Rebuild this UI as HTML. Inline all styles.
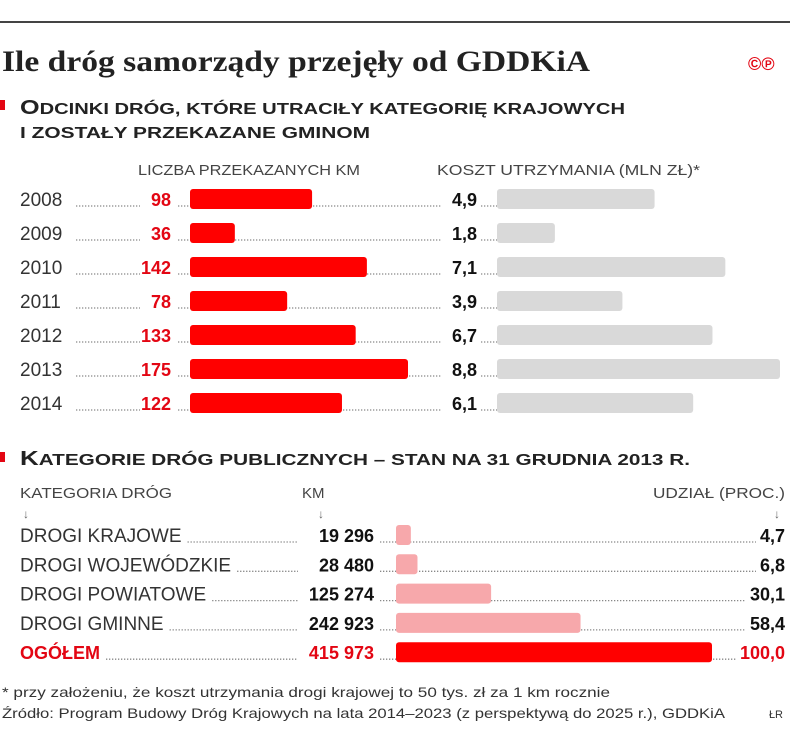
<!DOCTYPE html>
<html><head><meta charset="utf-8"><style>
body{margin:0;background:#fff;width:805px;height:735px;overflow:hidden}
svg text{font-family:"Liberation Sans","DejaVu Sans",sans-serif}
</style></head><body>
<svg id="c" width="805" height="735" xmlns="http://www.w3.org/2000/svg">
<line x1="0" y1="22" x2="790" y2="22" stroke="#444" stroke-width="2"/>
<text x="2" y="71" font-weight="bold" font-size="30" fill="#222" style="font-family:'Liberation Serif',serif" textLength="588" lengthAdjust="spacingAndGlyphs">Ile dróg samorządy przejęły od GDDKiA</text>
<text x="748" y="70" font-size="18" font-weight="bold" fill="#e30613">©℗</text>
<rect x="0" y="100" width="5" height="10" fill="#e30613"/>
<text x="20" y="114" font-size="20" font-weight="bold" fill="#222" textLength="605" lengthAdjust="spacingAndGlyphs">O<tspan font-size="16">DCINKI DRÓG, KTÓRE UTRACIŁY KATEGORIĘ KRAJOWYCH</tspan></text>
<text x="20" y="138" font-size="16" font-weight="bold" fill="#222" textLength="350" lengthAdjust="spacingAndGlyphs">I ZOSTAŁY PRZEKAZANE GMINOM</text>
<text x="138" y="175" font-size="15" fill="#444" textLength="222" lengthAdjust="spacingAndGlyphs">LICZBA PRZEKAZANYCH KM</text>
<text x="437" y="175" font-size="15" fill="#444" textLength="263" lengthAdjust="spacingAndGlyphs">KOSZT UTRZYMANIA (MLN ZŁ)*</text>
<g id="topg"></g>
<rect x="0" y="452" width="5" height="10" fill="#e30613"/>
<text x="20" y="465" font-size="20" font-weight="bold" fill="#222" textLength="670" lengthAdjust="spacingAndGlyphs">K<tspan font-size="16">ATEGORIE DRÓG PUBLICZNYCH – STAN NA 31 GRUDNIA 2013 R.</tspan></text>
<text x="20" y="498" font-size="15" fill="#444" textLength="152" lengthAdjust="spacingAndGlyphs">KATEGORIA DRÓG</text>
<text x="302" y="498" font-size="15" fill="#444">KM</text>
<text x="785" y="498" font-size="15" fill="#444" text-anchor="end" textLength="132" lengthAdjust="spacingAndGlyphs">UDZIAŁ (PROC.)</text>
<text x="23" y="518" font-size="12" fill="#666">↓</text>
<text x="318" y="518" font-size="12" fill="#666">↓</text>
<text x="774" y="518" font-size="12" fill="#666">↓</text>
<g id="botg"></g>
<text x="2" y="697" font-size="14" fill="#333" textLength="608" lengthAdjust="spacingAndGlyphs">* przy założeniu, że koszt utrzymania drogi krajowej to 50 tys. zł za 1 km rocznie</text>
<text x="2" y="718" font-size="14" fill="#333" textLength="723" lengthAdjust="spacingAndGlyphs">Źródło: Program Budowy Dróg Krajowych na lata 2014–2023 (z perspektywą do 2025 r.), GDDKiA</text>
<text x="783" y="718" font-size="11" fill="#333" text-anchor="end">ŁR</text>
</svg>
<script>
const years=["2008","2009","2010","2011","2012","2013","2014"];
const kmValues=[98,36,142,78,133,175,122];
const costValues=[4.9,1.8,7.1,3.9,6.7,8.8,6.1];
const categories=["DROGI KRAJOWE","DROGI WOJEWÓDZKIE","DROGI POWIATOWE","DROGI GMINNE","OGÓŁEM"];
const catKm=[19296,28480,125274,242923,415973];
const catShare=[4.7,6.8,30.1,58.4,100.0];
const NS="http://www.w3.org/2000/svg";
function el(p,t,a,txt){const e=document.createElementNS(NS,t);for(const k in a)e.setAttribute(k,a[k]);if(txt!==undefined)e.textContent=txt;p.appendChild(e);return e;}
const xKm=v=>190+v*218/175;
const xCost=v=>497+v*283/8.8;
const yRow=i=>199+i*34;
const topG=document.getElementById('topg');
function dots(p,x1,x2,y){const d=el(p,'line',{x1:x1,x2:x2,y1:y,y2:y,stroke:'#888','stroke-width':1.3,'stroke-dasharray':'1.3 1.7'});

}
years.forEach((yr,i)=>{
 const y=yRow(i);
 const t=el(topG,'text',{x:20,y:y+7,'font-size':19,fill:'#333'},yr);
 
 
 dots(topG,76,140,y+7);
 const v=el(topG,'text',{x:171,y:y+7,'font-size':18,'font-weight':'bold',fill:'#e30613','text-anchor':'end'},String(kmValues[i]));
 
 
 dots(topG,178,442,y+7);
 const b=el(topG,'rect',{x:190,y:y-10,width:xKm(kmValues[i])-190,height:20,rx:3,fill:'#ff0000'});
 
 
 const c=el(topG,'text',{x:477,y:y+7,'font-size':18,'font-weight':'bold',fill:'#111','text-anchor':'end'},costValues[i].toFixed(1).replace('.',','));
 
 
 dots(topG,481,497,y+7);
 const g=el(topG,'rect',{x:497,y:y-10,width:xCost(costValues[i])-497,height:20,rx:3,fill:'#d9d9d9'});
 
 
});
const botG=document.getElementById('botg');
const xSh=v=>396+v*3.16;
const yB=i=>535+i*29.3;
const fmt=n=>String(n).replace(/\B(?=(\d{3})+(?!\d))/g,' ');
categories.forEach((c,i)=>{
 const y=yB(i), last=i===categories.length-1;
 const col=last?'#e30613':'#333';
 const l=el(botG,'text',{x:20,y:y+7,'font-size':last?18:19,'font-weight':last?'bold':'normal',fill:col},c);
 
 
 const w=l.getComputedTextLength();
 dots(botG,20+w+6,298,y+7);
 const k=el(botG,'text',{x:374,y:y+7,'font-size':18,'font-weight':'bold',fill:last?'#e30613':'#111','text-anchor':'end'},fmt(catKm[i]));
 
 
 const p=el(botG,'text',{x:785,y:y+7,'font-size':18,'font-weight':'bold',fill:last?'#e30613':'#111','text-anchor':'end'},catShare[i].toFixed(1).replace('.',','));
 
 
 dots(botG,380,785-p.getComputedTextLength()-4,y+7);
 const b=el(botG,'rect',{x:396,y:y-10,width:xSh(catShare[i])-396,height:20,rx:3,fill:last?'#ff0000':'#f7a8ab'});
 
 
});
</script>
</body></html>
